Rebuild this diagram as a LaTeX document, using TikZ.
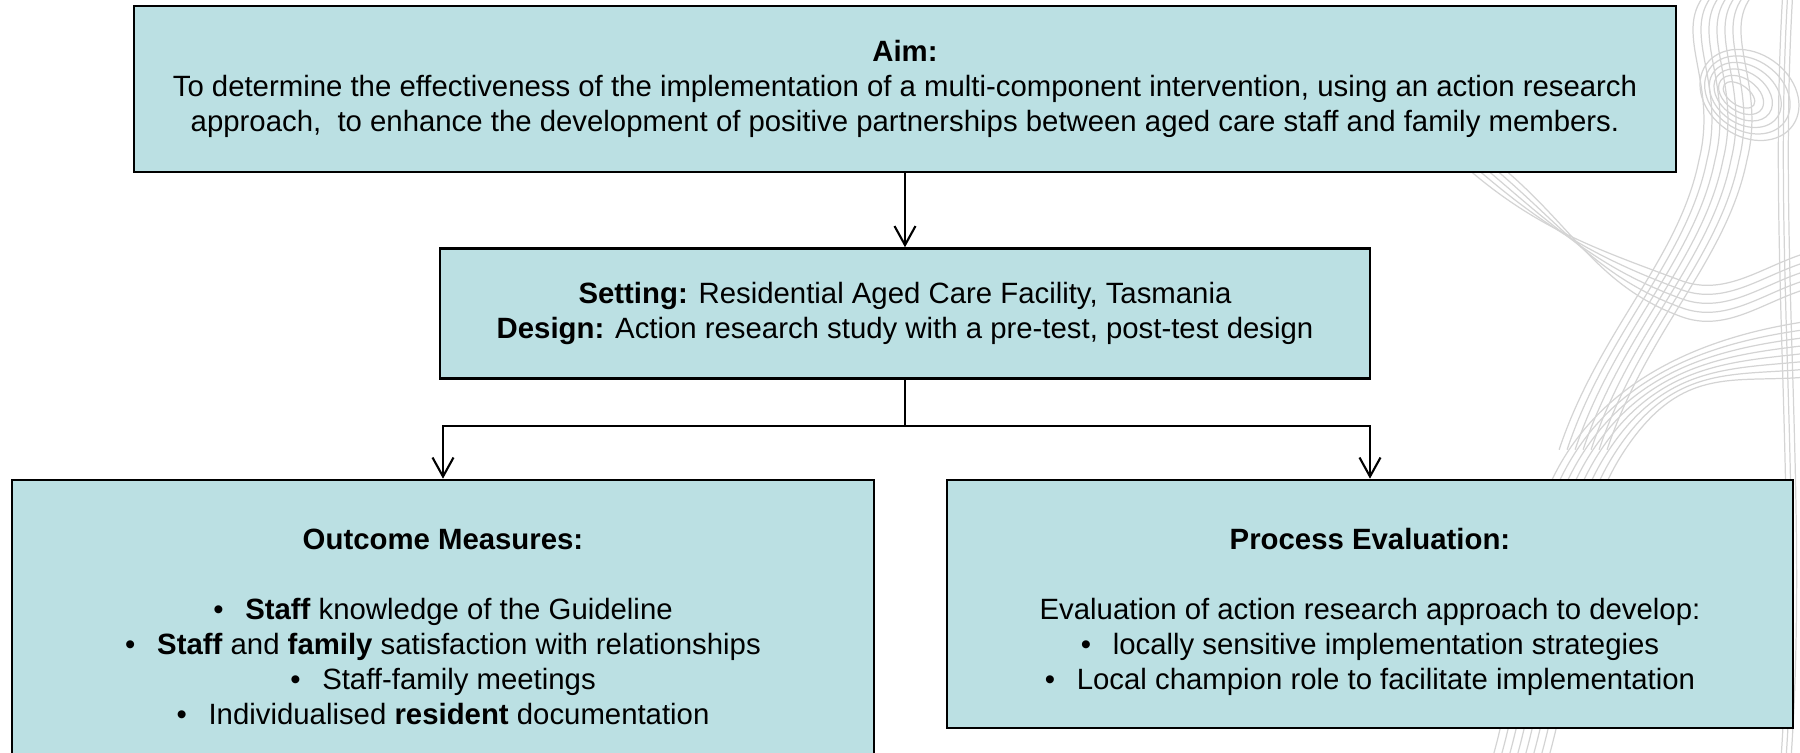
\documentclass[tikz,border=0pt]{standalone}
\usepackage{fontspec}
\setmainfont{Liberation Sans}
\usepackage{tikz}
\usetikzlibrary{arrows.meta, positioning}
\definecolor{boxfill}{RGB}{187,224,227}
\definecolor{grain}{RGB}{212,212,212}
\newcommand{\itm}{\textbullet\hspace{0.74em}}
\tikzset{
  box/.style={rectangle, draw=black, fill=boxfill, align=center,
    font=\fontsize{8.35}{9.96}\selectfont, inner sep=0pt, line width=0.7pt},
  arrow/.style={-{Straight Barb[length=1.9mm, width=2.1mm]}, line width=0.6pt, color=black},
  line/.style={line width=0.6pt, color=black},
  grainline/.style={draw=grain, line width=0.35pt}
}

\begin{document}
\begin{tikzpicture}
  \clip (0,0) rectangle (18,7.53);

  % grain lines in the background, in pixel units
  \begin{scope}[shift={(0,7.53)}, x=0.01cm, y=-0.01cm]
    % trunk
    \foreach \d in {0,8,...,56}
      \draw[grainline] (1490+\d,770) .. controls (1530+\d,640) and (1510+\d,540) .. (1570+\d,450)
        .. controls (1630+\d,360) and (1740,330+\d) .. (1820,320+\d);
    % upper branch
    \foreach \d in {0,8,...,48}
      \draw[grainline] (1560+\d,450) .. controls (1600+\d,330) and (1680+\d,260) .. (1700+\d,160)
        .. controls (1720+\d,80) and (1670+\d,30) .. (1710+\d,-10);
    % lines coming down from the top box
    \foreach \d in {0,9,...,36}
      \draw[grainline] (1470+\d,170) .. controls (1540+\d,230) and (1600,250+\d) .. (1680,280+\d)
        .. controls (1730,300+\d) and (1770,260+\d) .. (1820,250+\d);
    % knot near the top
    \foreach \d in {0,7,...,35}
      \draw[grainline, rotate around={-35:(1740+0.3*\d,95)}] (1740+0.3*\d,95) ellipse ({18+\d} and {10+0.9*\d});
    % right edge
    \foreach \d in {0,5,10}
      \draw[grainline] (1784+\d,-10) .. controls (1768+\d,250) and (1800+\d,500) .. (1782+\d,760);
  \end{scope}

  \node[box, minimum width=15.42cm, minimum height=1.66cm] (aim) at (9.05,6.64)
    {\textbf{Aim:}\\To determine the effectiveness of the implementation of a multi-component intervention, using an action research\\approach,~ to enhance the development of positive partnerships between aged care staff and family members.};
  \node[box, below=0.74cm of aim, minimum width=9.30cm, minimum height=1.30cm] (set)
    {\textbf{Setting:} Residential Aged Care Facility, Tasmania\\\textbf{Design:} Action research study with a pre-test, post-test design};
  \node[box, below=0.99cm of set, xshift=-4.62cm, minimum width=8.62cm, minimum height=2.94cm] (outc)
    {\textbf{Outcome Measures:}\\[9.96pt]
     \itm\textbf{Staff} knowledge of the Guideline\\
     \itm\textbf{Staff} and \textbf{family} satisfaction with relationships\\
     \itm Staff-family meetings\\
     \itm Individualised \textbf{resident} documentation};
  \node[box, below=0.99cm of set, xshift=4.65cm, minimum width=8.46cm, minimum height=2.48cm] (proc)
    {\rule{0pt}{10.8pt}\textbf{Process Evaluation:}\\[9.96pt]
     Evaluation of action research approach to develop:\\
     \itm locally sensitive implementation strategies\\
     \itm Local champion role to facilitate implementation};

  \draw[arrow] (aim) -- (set);
  \coordinate[below=0.46cm of set] (split);
  \draw[line] (set) -- (split);
  \draw[arrow] (split) -| (outc);
  \draw[arrow] (split) -| (proc);
\end{tikzpicture}
\end{document}
